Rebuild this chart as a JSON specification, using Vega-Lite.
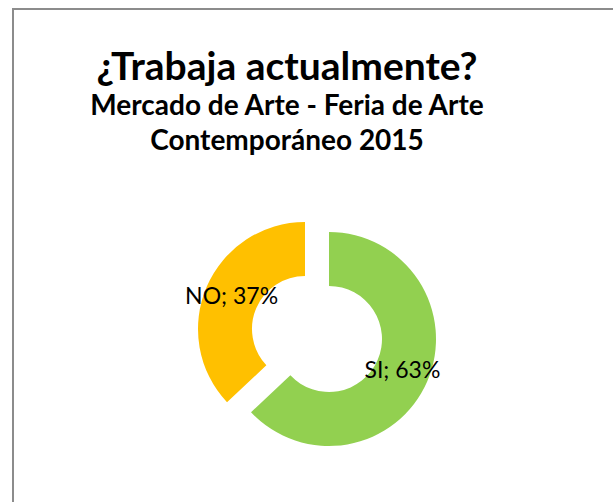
{
  "$schema": "https://vega.github.io/schema/vega-lite/v6.json",
  "width": 608,
  "height": 650,
  "autosize": {"type": "none"},
  "padding": {"left": 13, "top": 9, "right": -8, "bottom": -157},
  "background": "white",
  "view": {"stroke": "#8c8c8c", "strokeWidth": 2, "fill": "white"},
  "config": {
    "font": "Lato"
  },
  "title": {
    "text": "¿Trabaja actualmente?",
    "subtitle": ["Mercado de Arte - Feria de Arte", "Contemporáneo 2015"],
    "anchor": "middle",
    "orient": "top",
    "offset": -147,
    "dx": -30,
    "font": "Lato",
    "fontSize": 39,
    "fontWeight": "bold",
    "color": "black",
    "subtitleFont": "Lato",
    "subtitleFontSize": 28,
    "subtitleFontWeight": "bold",
    "subtitleColor": "black",
    "subtitleLineHeight": 35,
    "subtitlePadding": 5
  },
  "data": {
    "values": [
      {"cat": "SI", "value": 63, "label": "SI; 63%"},
      {"cat": "NO", "value": 37, "label": "NO; 37%"}
    ]
  },
  "encoding": {
    "theta": {"field": "value", "type": "quantitative", "stack": true},
    "order": {"field": "cat", "sort": "descending"},
    "color": {
      "field": "cat",
      "type": "nominal",
      "scale": {"domain": ["SI", "NO"], "range": ["#92D050", "#FFC000"]},
      "legend": null
    }
  },
  "layer": [
    {
      "mark": {"type": "arc", "innerRadius": 53, "outerRadius": 107, "xOffset": 12, "yOffset": 5},
      "encoding": {
        "opacity": {"condition": {"test": "datum.cat === 'SI'", "value": 1}, "value": 0}
      }
    },
    {
      "mark": {"type": "arc", "innerRadius": 53, "outerRadius": 107, "xOffset": -12, "yOffset": -5},
      "encoding": {
        "opacity": {"condition": {"test": "datum.cat === 'NO'", "value": 1}, "value": 0}
      }
    },
    {
      "mark": {"type": "text", "radius": 80, "xOffset": 12, "yOffset": 5, "fontSize": 23, "font": "Lato", "color": "black"},
      "encoding": {
        "text": {"field": "label"},
        "color": {"value": "black"},
        "opacity": {"condition": {"test": "datum.cat === 'SI'", "value": 1}, "value": 0}
      }
    },
    {
      "mark": {"type": "text", "radius": 80, "xOffset": -12, "yOffset": -5, "fontSize": 23, "font": "Lato", "color": "black"},
      "encoding": {
        "text": {"field": "label"},
        "color": {"value": "black"},
        "opacity": {"condition": {"test": "datum.cat === 'NO'", "value": 1}, "value": 0}
      }
    }
  ]
}
